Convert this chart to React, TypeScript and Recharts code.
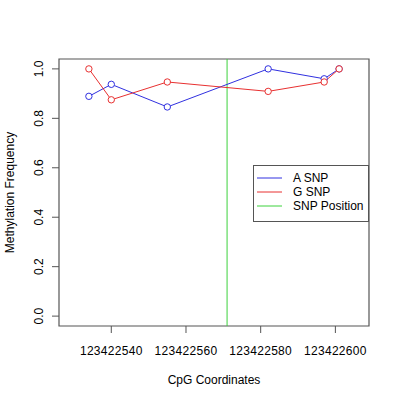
import {
  LineChart,
  Line,
  XAxis,
  YAxis,
  ReferenceLine,
  ReferenceArea,
  Legend,
  Label,
} from "recharts";

/* ===== Data ===== */
const positions = [123422534, 123422540, 123422555, 123422582, 123422597, 123422601];
const aSnp = [0.889, 0.9375, 0.846, 1.0, 0.96, 1.0];
const gSnp = [1.0, 0.875, 0.947, 0.909, 0.947, 1.0];
const snpPosition = 123422571;
const xTicks = [123422540, 123422560, 123422580, 123422600];
const yTicks = [0, 0.2, 0.4, 0.6, 0.8, 1.0];

const X_DOMAIN = [123422526, 123422609];
const Y_DOMAIN = [-0.04, 1.04];

const BLUE = "#3030e0";
const RED = "#e83030";
const GREEN = "#3cd23c";
const AXIS = "#555";
const FONT = "'Liberation Sans', Arial, Helvetica, sans-serif";

const data = positions.map((pos, i) => ({ pos, a: aSnp[i], g: gSnp[i] }));

const legendItems = [
  { label: "A SNP", color: BLUE },
  { label: "G SNP", color: RED },
  { label: "SNP Position", color: GREEN },
];

export default function App() {
  return (
    <div
      style={{
        position: "absolute",
        left: 0,
        top: 0,
        width: 400,
        height: 400,
        background: "#fff",
        fontFamily: FONT,
      }}
    >
      <LineChart
        width={400}
        height={400}
        data={data}
        margin={{ top: 59, right: 31, bottom: 0, left: 0 }}
      >
        <XAxis
          dataKey="pos"
          type="number"
          domain={X_DOMAIN}
          ticks={xTicks}
          allowDataOverflow
          height={74}
          tickSize={7}
          tickMargin={13}
          axisLine={false}
          tickLine={{ stroke: AXIS }}
          tick={{ fill: "#000", fontSize: 12, fontFamily: FONT, letterSpacing: 0.3 }}
        >
          <Label
            value="CpG Coordinates"
            position="insideBottom"
            offset={16}
            style={{ fill: "#000", fontSize: 12, fontFamily: FONT }}
          />
        </XAxis>
        <YAxis
          type="number"
          domain={Y_DOMAIN}
          ticks={yTicks}
          allowDataOverflow
          width={59}
          tickSize={7}
          tickMargin={0}
          axisLine={false}
          tickLine={{ stroke: AXIS }}
          tick={<YTick />}
        >
          <Label content={<YTitle />} />
        </YAxis>

        {/* ===== Plot box ===== */}
        <ReferenceArea
          x1={X_DOMAIN[0]}
          x2={X_DOMAIN[1]}
          y1={Y_DOMAIN[0]}
          y2={Y_DOMAIN[1]}
          fill="none"
          stroke={AXIS}
          strokeWidth={1.2}
          fillOpacity={0}
        />

        <ReferenceLine x={snpPosition} stroke={GREEN} strokeWidth={1} />

        <Line
          dataKey="a"
          stroke={BLUE}
          strokeWidth={1}
          dot={{ r: 3.2, fill: "#fff", stroke: BLUE, strokeWidth: 1 }}
          activeDot={false}
          isAnimationActive={false}
        />
        <Line
          dataKey="g"
          stroke={RED}
          strokeWidth={1}
          dot={{ r: 3.2, fill: "#fff", stroke: RED, strokeWidth: 1 }}
          activeDot={false}
          isAnimationActive={false}
        />

        {/* middle/center so the legend reserves no room in the layout */}
        <Legend
          layout="horizontal"
          verticalAlign="middle"
          align="center"
          content={<SnpLegend />}
          wrapperStyle={{ position: "absolute", left: 253, top: 165, width: 116, height: 57 }}
        />
      </LineChart>
    </div>
  );
}

/* ===== Rotated y tick labels ===== */
function YTick({ x, y, payload }: any) {
  return (
    <text
      transform={`translate(${x - 13},${y}) rotate(-90)`}
      textAnchor="middle"
      dy="0.35em"
      fill="#000"
      fontSize={12}
      fontFamily={FONT}
    >
      {Number(payload.value).toFixed(1)}
    </text>
  );
}

function YTitle({ viewBox }: any) {
  const cy = viewBox ? viewBox.y + viewBox.height / 2 : 192;
  return (
    <text
      transform={`translate(10,${cy}) rotate(-90)`}
      textAnchor="middle"
      dy="0.35em"
      fill="#000"
      fontSize={12}
      fontFamily={FONT}
    >
      Methylation Frequency
    </text>
  );
}

/* ===== Legend box ===== */
function SnpLegend() {
  return (
    <svg width={116} height={57} style={{ display: "block" }}>
      <rect x={0.5} y={0.5} width={115} height={56} fill="#fff" stroke={AXIS} />
      {legendItems.map((item, i) => (
        <g key={item.label}>
          <line
            x1={4}
            x2={29}
            y1={13 + i * 14}
            y2={13 + i * 14}
            stroke={item.color}
            strokeWidth={1}
          />
          <text
            x={40}
            y={13 + i * 14}
            dy="0.35em"
            fill="#000"
            fontSize={12}
            fontFamily={FONT}
          >
            {item.label}
          </text>
        </g>
      ))}
    </svg>
  );
}
